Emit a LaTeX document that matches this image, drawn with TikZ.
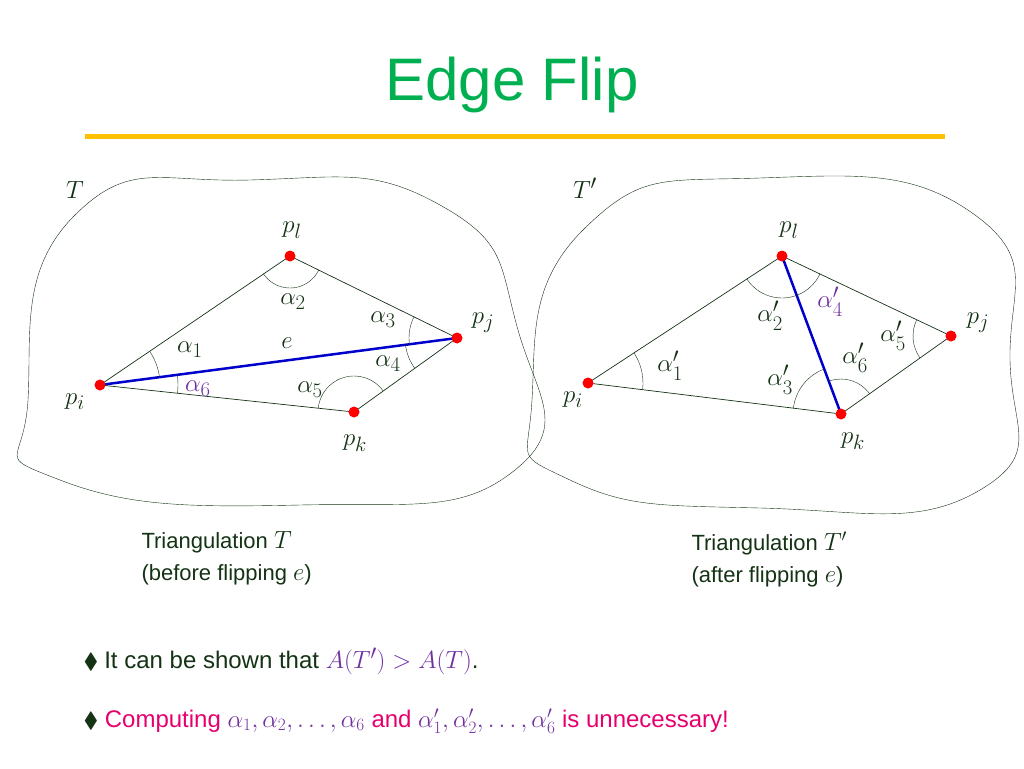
\documentclass[tikz,border=0pt]{standalone}
\usepackage{amssymb}
\usepackage{fontspec}
\setmainfont{Liberation Sans}
\usetikzlibrary{angles}
\definecolor{titlegreen}{RGB}{0,176,80}
\definecolor{baryellow}{RGB}{255,192,0}
\definecolor{darkgreen}{RGB}{20,50,20}
\definecolor{lilac}{RGB}{112,48,160}
\definecolor{pinkred}{RGB}{230,0,110}
\tikzset{
  pt/.style={circle,fill=red,inner sep=0pt,minimum size=11pt},
  lbl/.style={text=darkgreen,font=\fontsize{29}{32}\selectfont},
  ang/.style={draw=darkgreen,thin},
  tri/.style={draw=darkgreen,line width=0.7pt},
  flip/.style={draw=blue!80!black,line width=2.5pt},
  captext/.style={text=darkgreen,font=\fontsize{22}{32}\selectfont,align=left,anchor=north west}
}
\begin{document}
\begin{tikzpicture}[x=1pt,y=-1pt]
\useasboundingbox (0,0) rectangle (1024,768);
\node[text=titlegreen,font=\fontsize{60}{70}\selectfont] (title) at (512,85) {Edge Flip};
\draw[baryellow,line width=5pt] (85,136) -- (945,136);

% outlines
\draw[darkgreen] plot[smooth cycle, tension=0.9] coordinates {(28,400) (75,215) (250,180) (440,205) (518,330) (515,470) (300,505) (60,480)};
\draw[darkgreen] plot[smooth cycle, tension=0.9] coordinates {(532,400) (585,228) (760,178) (975,215) (1010,360) (980,490) (760,508) (570,480)};

% left triangulation
\coordinate (pl) at (290,256);
\coordinate (pj) at (457,338);
\coordinate (pi) at (100,385);
\coordinate (pk) at (354,412);
\draw[tri] (pi) -- (pl) -- (pj) -- (pk) -- cycle;
\draw[flip] (pi) -- (pj);
\pic[ang,angle radius=32pt] {angle=pi--pl--pj};
\pic[ang,angle radius=60pt] {angle=pj--pi--pl};
\pic[ang,angle radius=78pt] {angle=pk--pi--pj};
\pic[ang,angle radius=48pt] {angle=pl--pj--pi};
\pic[ang,angle radius=52pt] {angle=pi--pj--pk};
\pic[ang,angle radius=36pt] {angle=pj--pk--pi};
\foreach \p in {pl,pj,pi,pk} \node[pt] (d\p) at (\p) {};
\node[lbl] (T) at (75,190) {$T$};
\node[lbl] (lpl) at (292,230) {$p_l$};
\node[lbl] (lpj) at (483,323) {$p_j$};
\node[lbl] (lpi) at (75,402) {$p_i$};
\node[lbl] (lpk) at (355,443) {$p_k$};
\node[lbl] (a2) at (293,302) {$\alpha_2$};
\node[lbl] (a3) at (383,320) {$\alpha_3$};
\node[lbl,font=\fontsize{34}{36}\selectfont] (e) at (287,343) {$e$};
\node[lbl] (a1) at (190,350) {$\alpha_1$};
\node[lbl] (a4) at (388,364) {$\alpha_4$};
\node[lbl,text=lilac] (a6) at (198,389) {$\alpha_6$};
\node[lbl] (a5) at (310,390) {$\alpha_5$};

% right triangulation
\coordinate (ql) at (782,256);
\coordinate (qj) at (951,336);
\coordinate (qi) at (588,383);
\coordinate (qk) at (841,414);
\draw[tri] (qi) -- (ql) -- (qj) -- (qk) -- cycle;
\draw[flip] (ql) -- (qk);
\pic[ang,angle radius=42pt] {angle=qi--ql--qk};
\pic[ang,angle radius=42pt] {angle=qk--ql--qj};
\pic[ang,angle radius=55pt] {angle=qk--qi--ql};
\pic[ang,angle radius=38pt] {angle=ql--qj--qk};
\pic[ang,angle radius=35pt] {angle=qj--qk--ql};
\pic[ang,angle radius=48pt] {angle=ql--qk--qi};
\foreach \p in {ql,qj,qi,qk} \node[pt] (d\p) at (\p) {};
\node[lbl] (Tp) at (585,188) {$T'$};
\node[lbl] (lql) at (789,230) {$p_l$};
\node[lbl] (lqj) at (978,323) {$p_j$};
\node[lbl] (lqi) at (573,400) {$p_i$};
\node[lbl] (lqk) at (853,441) {$p_k$};
\node[lbl] (b2) at (770,316) {$\alpha'_2$};
\node[lbl,text=lilac] (b4) at (830,302) {$\alpha'_4$};
\node[lbl] (b5) at (893,336) {$\alpha'_5$};
\node[lbl] (b6) at (855,358) {$\alpha'_6$};
\node[lbl] (b1) at (670,366) {$\alpha'_1$};
\node[lbl] (b3) at (780,380) {$\alpha'_3$};

% captions
\node[captext] (capL) at (138,528) {Triangulation {\fontsize{26}{30}\selectfont$T$}\\(before flipping {\fontsize{26}{30}\selectfont$e$})};
\node[captext] (capR) at (688,528) {Triangulation {\fontsize{26}{30}\selectfont$T'$}\\(after flipping {\fontsize{26}{30}\selectfont$e$})};

% bullets
\node[anchor=west,text=darkgreen,font=\fontsize{24}{28}\selectfont] (b1line) at (80,661)
  {\fontsize{22}{24}\selectfont$\blacklozenge$\ \fontsize{24}{28}\selectfont It can be shown that {\color{lilac}\fontsize{30}{32}\selectfont$A(T')>A(T)$}.};
\node[anchor=west,text=pinkred,font=\fontsize{24}{28}\selectfont] (b2line) at (80,721)
  {{\color{darkgreen}\fontsize{22}{24}\selectfont$\blacklozenge$}\ \fontsize{24}{28}\selectfont Computing {\color{lilac}\fontsize{27}{30}\selectfont$\alpha_1,\alpha_2,\ldots,\alpha_6$} and {\color{lilac}\fontsize{27}{30}\selectfont$\alpha'_1,\alpha'_2,\ldots,\alpha'_6$} is unnecessary!};
\end{tikzpicture}
\end{document}
